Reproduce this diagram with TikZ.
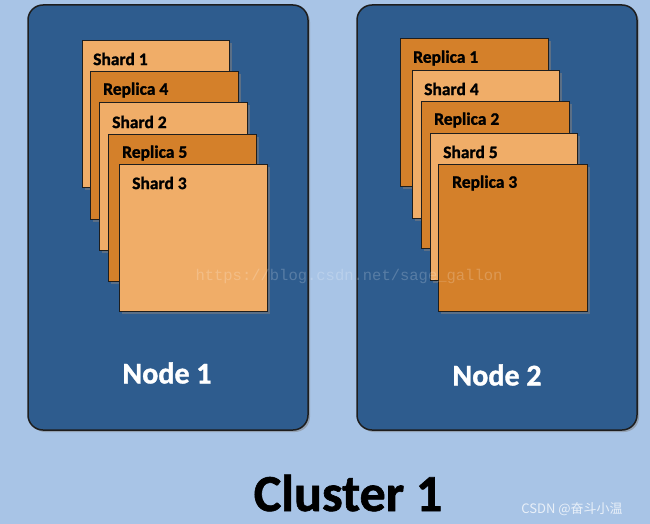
\documentclass[tikz,border=0pt]{standalone}
\usepackage{fontspec}
\setmainfont{Carlito}[BoldFeatures={FakeBold=1.2}]
\newfontfamily\wmfont{Liberation Mono}
\newfontfamily\cjkfont{Noto Sans CJK SC}
\usetikzlibrary{shadows}
\definecolor{bg}{HTML}{A8C4E6}
\definecolor{nodeblue}{HTML}{2E5C8E}
\definecolor{lightor}{HTML}{F0AD68}
\definecolor{darkor}{HTML}{D4802A}
\definecolor{edge}{HTML}{1E1E1E}
\begin{document}
\begin{tikzpicture}[x=1pt,y=-1pt,
  server/.style={draw=edge,line width=1.5pt,fill=nodeblue,rounded corners=15pt,
    drop shadow={shadow xshift=2pt,shadow yshift=-2pt,opacity=0.5}},
  card/.style={draw=edge,line width=1pt,
    drop shadow={shadow xshift=2.5pt,shadow yshift=-2.5pt,opacity=0.55}},
  shardcard/.style={card,fill=lightor},
  replcard/.style={card,fill=darkor},
  cardlabel/.style={anchor=west,inner sep=0pt,font=\fontsize{17.5}{19}\selectfont\bfseries,text=black},
  nodelabel/.style={inner sep=0pt,font=\fontsize{30}{34}\selectfont\bfseries,text=white},
  clusterlabel/.style={inner sep=0pt,font=\fontsize{52}{56}\selectfont\bfseries,text=black}
]
\fill[bg] (0,0) rectangle (650,524);
\useasboundingbox (0,0) rectangle (650,524);

% servers
\path[server] (28,5) rectangle (308,430);
\path[server] (357,5) rectangle (637,430);
\node[nodelabel] (n1) at (167,373) {Node 1};
\node[nodelabel] (n2) at (497,375) {Node 2};

% node 1 cards
\path[shardcard] (82,41) rectangle (229,187);
\node[cardlabel] (a1) at (93,59) {Shard 1};
\path[replcard] (90,72) rectangle (238,219);
\node[cardlabel] (a2) at (103,90) {Replica 4};
\path[shardcard] (99,103) rectangle (247,250);
\node[cardlabel] (a3) at (112,122) {Shard 2};
\path[replcard] (108,134) rectangle (256,281);
\node[cardlabel] (a4) at (122,153) {Replica 5};
\path[shardcard] (119,164) rectangle (267,311);
\node[cardlabel] (a5) at (132,183) {Shard 3};

% node 2 cards
\path[replcard] (400,39) rectangle (548,186);
\node[cardlabel] (b1) at (413,58) {Replica 1};
\path[shardcard] (412,71) rectangle (559,218);
\node[cardlabel] (b2) at (424,89) {Shard 4};
\path[replcard] (421,102) rectangle (569,248);
\node[cardlabel] (b3) at (434,120) {Replica 2};
\path[shardcard] (430,133) rectangle (577,280);
\node[cardlabel] (b4) at (443,152) {Shard 5};
\path[replcard] (438,164) rectangle (587,311);
\node[cardlabel] (b5) at (452,183) {Replica 3};

% watermarks
\node[inner sep=0pt,font=\wmfont\fontsize{15.5}{17}\selectfont,text=white,text opacity=0.2] (wm) at (349,276) {https://blog.csdn.net/sage\_gallon};

\node[clusterlabel] (cl) at (348,493) {Cluster 1};
\node[inner sep=0pt,font=\cjkfont\fontsize{13}{15}\selectfont,text=white,text opacity=0.75] (csdn) at (572,509) {CSDN @奋斗小温};
\end{tikzpicture}
\end{document}
